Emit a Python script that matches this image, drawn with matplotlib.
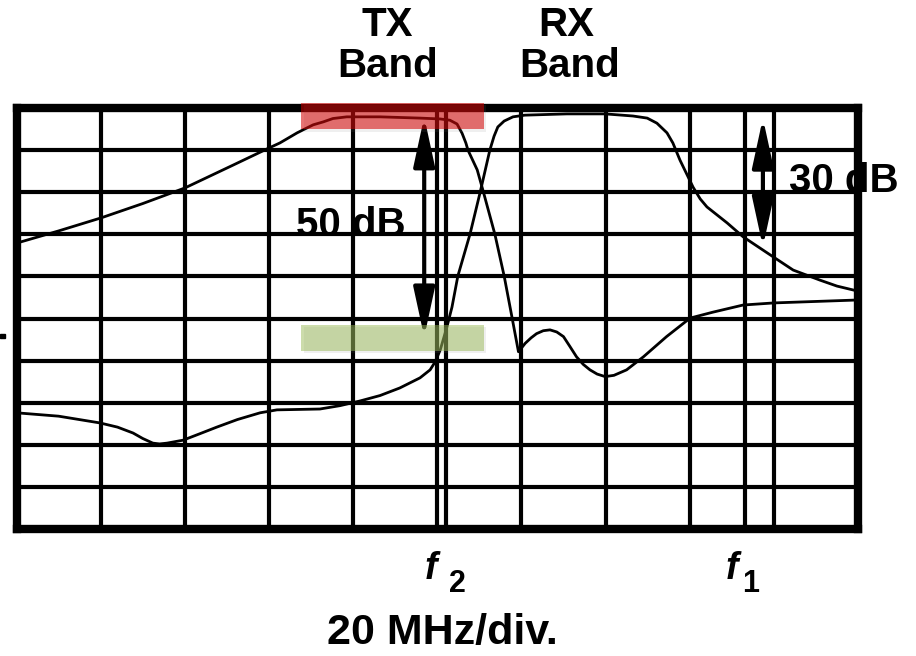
import matplotlib as mpl
mpl.use('Agg')
import matplotlib.pyplot as plt
from matplotlib.patches import Rectangle, FancyArrowPatch

plt.rcParams['font.family'] = ['Liberation Sans', 'DejaVu Sans']

# frequency offset in MHz (20 MHz/div), response in dB (10 dB/div)
tx_freq = [0, 10.0, 20.1, 30.0, 40.0, 51.4, 60.0, 62.6, 66.7, 70.5, 72.9, 75.2, 78.5,
           86.4, 95.9, 100.7, 103.0, 104.7, 105.9, 106.8, 107.3,
           109.5, 110.9, 113.7, 115.9, 117.8, 119.3, 120.9, 122.3, 123.6, 125.2, 126.8,
           128.4, 130.0, 131.5, 133.1, 134.7, 136.3, 138.0, 139.9, 142.0, 145.0, 149.0,
           154.5, 160.1, 165.5, 172.7, 180.0, 200.0]
tx_db = [-32.1, -29.2, -26.1, -22.7, -19.0, -13.6, -9.5, -8.3, -5.9, -4.0, -3.3, -2.5, -2.1,
         -2.1, -2.4, -2.6, -2.9, -3.8, -6.0, -8.3, -10.0,
         -14.7, -19.7, -30.0, -39.9, -49.9, -57.9, -55.9, -54.6, -53.6, -52.9, -52.7,
         -53.2, -54.3, -56.6, -59.1, -60.9, -62.2, -63.2, -63.8, -63.5, -62.2, -59.1,
         -54.3, -49.9, -48.5, -46.8, -46.3, -45.6]

rx_freq = [0, 10.0, 19.8, 24.0, 27.7, 30.0, 32.4, 34.0, 35.8, 39.6, 43.5, 47.6, 52.5,
           57.9, 61.9, 67.0, 72.1, 76.9, 81.6, 86.4, 91.1, 95.9,
           98.3, 99.5, 100.7, 102.3, 103.5, 104.9, 107.8, 110.2, 112.5, 113.5, 114.4,
           115.9, 118.0, 120.8, 130.8, 139.9, 146.5, 149.9, 152.2, 154.6, 156.0, 157.7,
           160.8, 162.5, 164.1, 168.9, 172.7, 178.4, 184.6, 191.0, 195.0, 200.0]
rx_db = [-72.4, -73.2, -74.8, -75.8, -77.2, -78.5, -79.6, -79.8, -79.6, -78.9, -77.4,
         -75.8, -74.0, -72.4, -71.7, -71.6, -71.5, -70.7, -69.6, -68.3, -66.5, -64.1,
         -62.2, -60.3, -57.5, -52.0, -47.3, -39.9, -29.9, -20.0, -10.0, -6.7, -4.5,
         -3.1, -2.1, -1.7, -1.4, -1.4, -1.9, -2.4, -3.6, -5.9, -8.3, -12.4,
         -18.8, -21.6, -23.5, -27.3, -30.6, -34.4, -38.5, -40.9, -42.3, -43.5]

# extra marker lines at f2 and f1
marker_freq = [102.0, 173.1]

# bands: (x0, x1, y0, y1)
tx_band = (67.7, 111.1, -5.0, 1.2)
rx_level = (67.7, 111.1, -57.7, -51.5)

W, H = 916, 656
fig = plt.figure(figsize=(W / 100, H / 100), dpi=100)
ax = fig.add_axes([16.5 / W, 1 - 529 / H, (858 - 16.5) / W, (529 - 108) / H])
ax.set_xlim(0, 200)
ax.set_ylim(-100, 0)
ax.set_xticks([])
ax.set_yticks([])

for sp in ax.spines.values():
    sp.set_linewidth(6.0)
    sp.set_capstyle('projecting')
    sp.set_zorder(4)

# grid
for x in list(range(20, 200, 20)) + marker_freq:
    ax.axvline(x, color='black', lw=3.0, zorder=2)
for y in range(-90, 0, 10):
    ax.axhline(y, color='black', lw=3.0, zorder=2)

ax.plot(tx_freq, tx_db, color='black', lw=2.0, zorder=3, solid_joinstyle='round')
ax.plot(rx_freq, rx_db, color='black', lw=2.0, zorder=3, solid_joinstyle='round')

# arrows
for x, y0, y1 in [(96.9, -2.1, -54.4), (177.4, -2.4, -33.0)]:
    arr = FancyArrowPatch((x, y0), (x, y1), arrowstyle='<|-|>,head_length=30,head_width=6.5',
                          mutation_scale=1, lw=3, color='black', shrinkA=0, shrinkB=0,
                          zorder=3.5, clip_on=False)
    ax.add_patch(arr)

ax.text(79.5, -27.8, '50 dB', fontsize=29, fontweight='bold', ha='center', va='center', zorder=1)
ax.text(183.6, -17.3, '30 dB', fontsize=29, fontweight='bold', ha='left', va='center',
        zorder=1, clip_on=False)

# highlight bands with a faint shadow
for (x0, x1, y0, y1), col, a in [(tx_band, '#d40000', 0.55), (rx_level, '#9bbb59', 0.5)]:
    ax.add_patch(Rectangle((x0 + 0.6, y0 - 0.6), x1 - x0, y1 - y0, color='grey',
                           alpha=0.12, lw=0, zorder=5, clip_on=False))
    ax.add_patch(Rectangle((x0, y0), x1 - x0, y1 - y0, color=col, alpha=a, lw=0,
                           zorder=6, clip_on=False))

# labels outside the plot
fig.text(387 / W, 1 - 25 / H, 'TX', fontsize=29, fontweight='bold', ha='center', va='center')
fig.text(388 / W, 1 - 66 / H, 'Band', fontsize=29, fontweight='bold', ha='center', va='center')
fig.text(566 / W, 1 - 25 / H, 'RX', fontsize=29, fontweight='bold', ha='center', va='center')
fig.text(570 / W, 1 - 66 / H, 'Band', fontsize=29, fontweight='bold', ha='center', va='center')

for fx, sx, sub in [(431, 457, '2'), (732, 751, '1')]:
    fig.text(fx / W, 1 - 579 / H, 'f', fontsize=27, fontweight='bold', style='italic',
             ha='center', va='baseline')
    fig.text(sx / W, 1 - 592 / H, sub, fontsize=22, fontweight='bold',
             ha='center', va='baseline')

fig.text(442 / W, 1 - 633 / H, '20 MHz/div.', fontsize=31, fontweight='bold',
         ha='center', va='center')

# small dash at the left edge
fig.patches.append(Rectangle((0, 1 - 338 / H), 5 / W, 4 / H, color='black',
                             transform=fig.transFigure, figure=fig))

fig.savefig('out.png', dpi=100)
